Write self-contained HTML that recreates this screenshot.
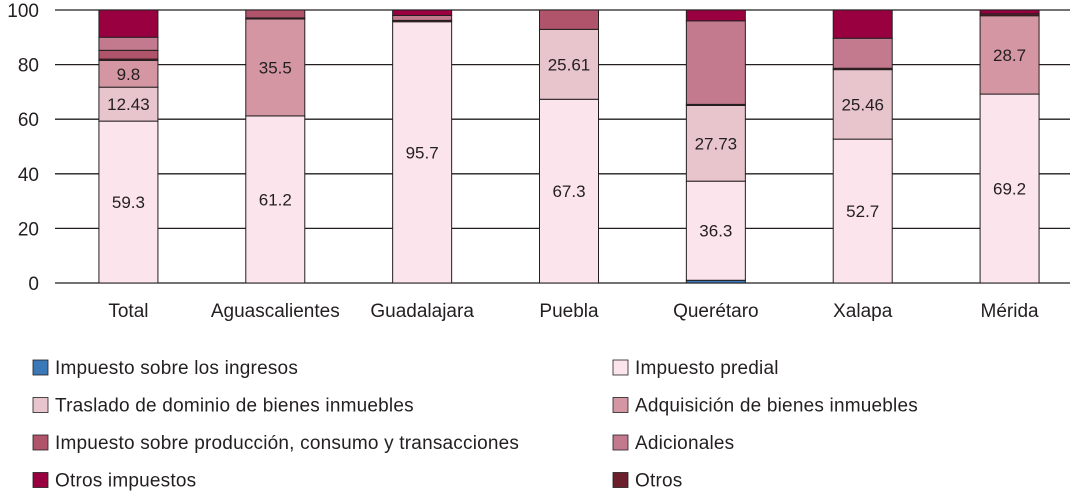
<!DOCTYPE html>
<html><head><meta charset="utf-8"><style>
body{margin:0;background:#fff;font-family:"Liberation Sans",sans-serif;}
svg text{font-family:"Liberation Sans",sans-serif;fill:#231f20;}
</style></head><body>
<svg id="chart" width="1090" height="494">
<g id="grid"></g><g id="bars"></g><g id="labels"></g><g id="legend"></g>
</svg>
<script>
const categories=["Total","Aguascalientes","Guadalajara","Puebla","Querétaro","Xalapa","Mérida"];
const seriesNames=["Impuesto sobre los ingresos","Impuesto predial","Traslado de dominio de bienes inmuebles","Adquisición de bienes inmuebles","Impuesto sobre producción, consumo y transacciones","Adicionales","Otros impuestos","Otros"];
const colors=["#3b78b8","#fbe4ec","#e8c5cd","#d596a3","#b0546c","#c47a8e","#990040","#6b1f2a"];
// stacking order bottom to top
const ingresos=[0,0,0,0,1,0,0];
const predial=[59.3,61.2,95.7,67.3,36.3,52.7,69.2];
const traslado=[12.43,0,0,25.61,27.73,25.46,0];
const adquisicion=[9.8,35.5,0,0,0,0,28.7];
const otros=[0.5,0.4,0.5,0,0.4,0.5,0.7];
const produccion=[3.2,2.9,0,7.09,0,0,0];
const adicionales=[4.8,0,1.8,0,30.6,11.0,0];
const otrosImp=[9.97,0,2,0,3.97,10.34,1.4];
const stackOrder=[[ingresos,0],[predial,1],[traslado,2],[adquisicion,3],[otros,7],[produccion,4],[adicionales,5],[otrosImp,6]];
const yTicks=[0,20,40,60,80,100];
const printed=[[null,"59.3","12.43","9.8"],[null,"61.2",null,"35.5"],[null,"95.7"],[null,"67.3","25.61"],[null,"36.3","27.73"],[null,"52.7","25.46"],[null,"69.2",null,"28.7"]];
const NS="http://www.w3.org/2000/svg";
const x0=55,x1=1083,yTop=10,yBot=283,bw=59;
const y=v=>yBot-(v/100)*(yBot-yTop);
const xc=i=>x0+(x1-x0)*(i+0.5)/categories.length;
function mk(t,a,p){const e=document.createElementNS(NS,t);for(const k in a)e.setAttribute(k,a[k]);p.appendChild(e);return e;}
const grid=document.getElementById('grid');
yTicks.forEach(t=>{
 const l=mk('line',{x1:x0,x2:1070,y1:y(t),y2:y(t),stroke:'#231f20','stroke-width':1.3},grid);
 
 
 const tx=mk('text',{x:39,y:y(t)+7,'text-anchor':'end','font-size':19},grid);tx.textContent=t;
 
 
});
const bars=document.getElementById('bars'),labels=document.getElementById('labels');
categories.forEach((c,i)=>{
 let acc=0;const cx=xc(i);
 stackOrder.forEach(([arr,ci],si)=>{
  const v=arr[i];if(!v)return;
  const r=mk('rect',{x:cx-bw/2,y:y(acc+v),width:bw,height:y(acc)-y(acc+v),fill:colors[ci],stroke:'#231f20','stroke-width':1},bars);
  
  
  const lab=printed[i][si];
  if(lab){const t=mk('text',{x:cx,y:(y(acc)+y(acc+v))/2+6,'text-anchor':'middle','font-size':17},labels);t.textContent=lab;
   
   }
  acc+=v;
 });
 const t=mk('text',{x:cx,y:317,'text-anchor':'middle','font-size':19},labels);t.textContent=c;
 
 
});
const leg=document.getElementById('legend');
seriesNames.forEach((n,k)=>{
 const col=k%2,row=Math.floor(k/2);
 const lx=col?613:33,ly=360+row*37.5;
 const g=mk('g',{},leg);
 
 
 mk('rect',{x:lx,y:ly,width:15,height:15,fill:colors[k],stroke:'#231f20','stroke-width':0.8},g);
 const t=mk('text',{x:lx+22,y:ly+14,'font-size':19,'letter-spacing':0.2},g);t.textContent=n;
});
</script>
</body></html>
